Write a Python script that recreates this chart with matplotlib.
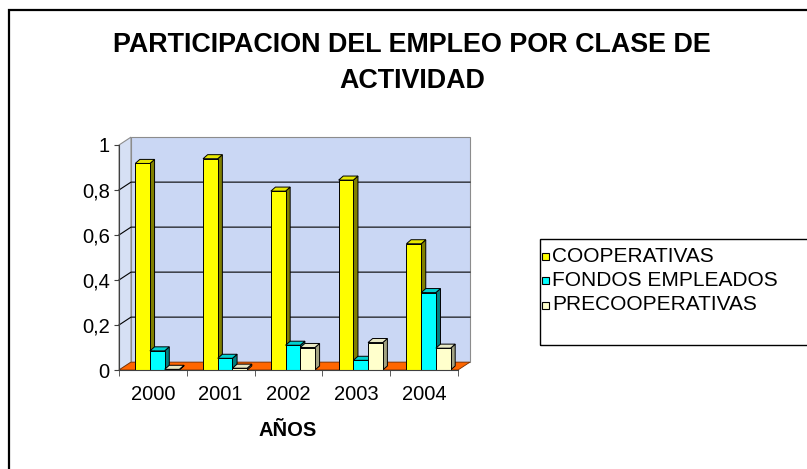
import matplotlib
matplotlib.use('Agg')
import matplotlib.pyplot as plt
from matplotlib.patches import Rectangle, Polygon

# data
years = ['2000', '2001', '2002', '2003', '2004']
cooperativas = [0.918, 0.939, 0.795, 0.844, 0.561]
fondos = [0.085, 0.052, 0.110, 0.043, 0.344]
precoop = [0.003, 0.008, 0.100, 0.122, 0.097]
series_names = ['COOPERATIVAS', 'FONDOS EMPLEADOS', 'PRECOOPERATIVAS']
yticks = [0, 0.2, 0.4, 0.6, 0.8, 1]
ytick_labels = ['0', '0,2', '0,4', '0,6', '0,8', '1']

face_colors = ['#FFFF00', '#00FFFF', '#FFFFCC']
side_colors = ['#808000', '#008080', '#A3A383']
top_colors = ['#E8E800', '#00D0D0', '#E8E8C4']

plt.rcParams['font.family'] = ['Liberation Sans', 'DejaVu Sans']

W, H = 807, 469
fig = plt.figure(figsize=(W / 100, H / 100), dpi=100)
ax = fig.add_axes([119 / W, 99 / H, 339 / W, 225 / H])
ax.set_xlim(-0.5, 4.5)
ax.set_ylim(0, 1)
ax.patch.set_visible(False)

# 3d look: depth of the walls and of the bars, in data units
dx, dy = 0.177, 0.035
bdx, bdy = 0.068, 0.018

x0, x1 = -0.5, 4.5
wall = Polygon([(x0 + dx, dy), (x1 + dx, dy), (x1 + dx, 1 + dy), (x0 + dx, 1 + dy)],
               closed=True, facecolor='#CAD7F4', edgecolor='#8C8C8C', lw=0.8,
               clip_on=False, zorder=0)
side = Polygon([(x0, 0), (x0 + dx, dy), (x0 + dx, 1 + dy), (x0, 1)],
               closed=True, facecolor='#D6E0F4', edgecolor='#8C8C8C', lw=0.8,
               clip_on=False, zorder=0)
floor = Polygon([(x0, 0), (x1, 0), (x1 + dx, dy), (x0 + dx, dy)],
                closed=True, facecolor='#FF6600', edgecolor='#7A3000', lw=0.6,
                clip_on=False, zorder=1)
for p in (wall, side, floor):
    ax.add_patch(p)

for v in yticks[1:-1]:
    ax.plot([x0, x0 + dx, x1 + dx], [v, v + dy, v + dy], color='black', lw=0.8,
            clip_on=False, zorder=1)

# bars
w = 0.217
off = 0.065
z = 2
for i in range(len(years)):
    for j, vals in enumerate([cooperativas, fondos, precoop]):
        v = vals[i]
        left = i + off - 1.5 * w + j * w
        ax.add_patch(Polygon([(left + w, 0), (left + w + bdx, bdy), (left + w + bdx, v + bdy), (left + w, v)],
                             closed=True, facecolor=side_colors[j], edgecolor='black', lw=0.7,
                             clip_on=False, zorder=z))
        ax.add_patch(Polygon([(left, v), (left + w, v), (left + w + bdx, v + bdy), (left + bdx, v + bdy)],
                             closed=True, facecolor=top_colors[j], edgecolor='black', lw=0.7,
                             clip_on=False, zorder=z))
        ax.add_patch(Rectangle((left, 0), w, v, facecolor=face_colors[j], edgecolor='black',
                               lw=0.7, clip_on=False, zorder=z + 1))
        z += 2

# axes
for s in ('top', 'right'):
    ax.spines[s].set_visible(False)
ax.spines['left'].set_color('#404040')
ax.spines['bottom'].set_color('#404040')
ax.spines['left'].set_zorder(50)
ax.spines['bottom'].set_zorder(50)
ax.set_yticks(yticks, ytick_labels)
ax.tick_params(axis='y', length=3.6, pad=3, labelsize=14.5, color='#404040')
ax.set_xticks(range(len(years)), years)
ax.set_xticks([k - 0.5 for k in range(len(years) + 1)], minor=True)
ax.tick_params(axis='x', which='major', length=0, pad=11, labelsize=14.5)
ax.tick_params(axis='x', which='minor', length=4.3, color='#404040')

fig.text(288 / W, 1 - 430 / H, 'AÑOS', ha='center', va='center', fontsize=14.5, weight='bold')

fig.text(412 / W, 1 - 52 / H, 'PARTICIPACION DEL EMPLEO POR CLASE DE', ha='center',
         va='baseline', fontsize=19.4, weight='bold')
fig.text(412 / W, 1 - 88 / H, 'ACTIVIDAD', ha='center', va='baseline', fontsize=19.4, weight='bold')

# legend
fig.patches.append(Rectangle((540 / W, 1 - 345 / H), 0.5, 106 / H, transform=fig.transFigure,
                             fill=False, edgecolor='black', lw=1))
for j, name in enumerate(series_names):
    yc = 1 - (256 + 24.5 * j) / H
    fig.patches.append(Rectangle((542 / W, yc - 3.5 / H), 7 / W, 7 / H, transform=fig.transFigure,
                                 facecolor=face_colors[j], edgecolor='black', lw=0.8))
    fig.text(552 / W, yc, name, ha='left', va='center', fontsize=15)

# outer chart border
fig.patches.append(Rectangle((8.5 / W, -0.5), 2, 1.5 - 10.5 / H, transform=fig.transFigure,
                             fill=False, edgecolor='black', lw=1.6))

fig.savefig('out.png', dpi=100)
